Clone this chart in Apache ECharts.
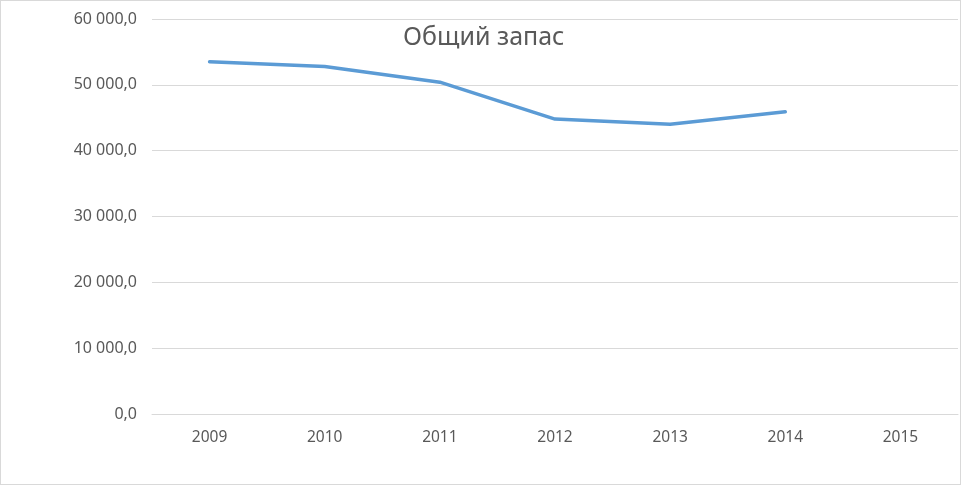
<!DOCTYPE html>
<html><head><meta charset="utf-8">
<script src="https://cdn.jsdelivr.net/npm/echarts@6/dist/echarts.min.js"></script>
<style>html,body{margin:0;padding:0;background:#fff}#c{width:961px;height:485px;box-sizing:border-box;border:1px solid #d9d9d9}</style>
</head><body><div id="c"></div>
<script>
const categories = ['2009','2010','2011','2012','2013','2014','2015'];
const totalStock = [53500, 52800, 50400, 44800, 44000, 45900, null];
const yTicks = {min: 0, max: 60000, interval: 10000};
const titleText = 'Общий запас';

function fmt(v){
  const s = Math.round(v).toString().replace(/\B(?=(\d{3})+(?!\d))/g, ' ');
  return s + ',0';
}
const chart = echarts.init(document.getElementById('c'), null, {renderer:'canvas'});
chart.setOption({
  animation:false,
  title:{text:titleText,left:397,top:19,textStyle:{fontFamily:'Noto Sans',fontSize:25,fontWeight:'normal',color:'#595959'}},
  grid:{left:151,right:2,top:18,bottom:70,containLabel:false},
  xAxis:{type:'category',data:categories,boundaryGap:true,
    axisLine:{show:true,lineStyle:{color:'#d9d9d9'}},axisTick:{show:false},
    axisLabel:{color:'#595959',fontFamily:'Noto Sans',fontSize:15.5,margin:16}},
  yAxis:{type:'value',min:yTicks.min,max:yTicks.max,interval:yTicks.interval,
    axisLine:{show:false},axisTick:{show:false},
    splitLine:{lineStyle:{color:'#d9d9d9'}},
    axisLabel:{color:'#595959',fontFamily:'Noto Sans',fontSize:16,margin:15,formatter:fmt}},
  series:[{type:'line',data:totalStock,showSymbol:false,symbol:'none',
    lineStyle:{color:'#5b9bd5',width:3.5,cap:'round',join:'round'},connectNulls:false}]
});
</script></body></html>
